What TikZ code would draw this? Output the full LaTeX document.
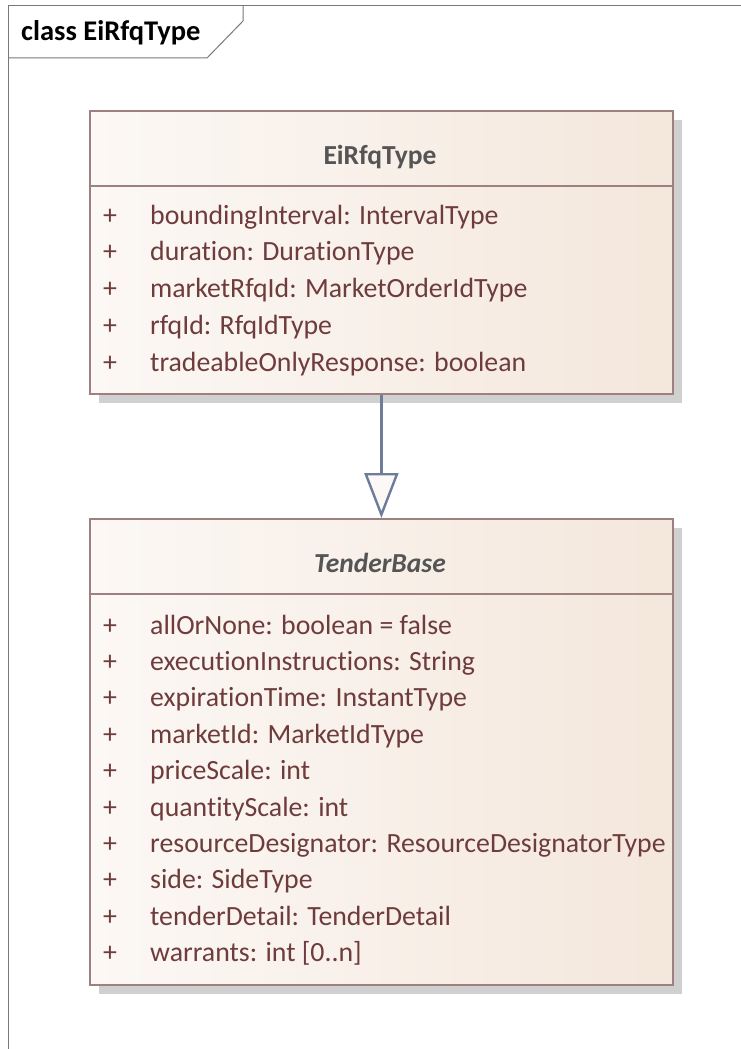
\documentclass[tikz,border=0pt]{standalone}
\usepackage{fontspec}
\setmainfont[Ligatures=NoCommon]{Carlito}
\usetikzlibrary{shadows,arrows.meta}
\definecolor{umlline}{RGB}{158,128,128}
\definecolor{umlleft}{RGB}{252,248,245}
\definecolor{umlright}{RGB}{244,231,220}
\definecolor{umlshadow}{RGB}{208,208,208}
\definecolor{umlattr}{RGB}{110,60,60}
\definecolor{umlhead}{RGB}{85,85,85}
\definecolor{umllink}{RGB}{110,124,155}
\definecolor{umlframe}{RGB}{120,120,120}
\tikzset{
  classbox/.style={draw=umlline,line width=1.8pt,left color=umlleft,right color=umlright,
    minimum width=583pt,anchor=north west,inner sep=0pt,
    drop shadow={shadow xshift=9pt,shadow yshift=-9pt,fill=umlshadow,opacity=1}},
  compline/.style={draw=umlline,line width=1.8pt},
  headtext/.style={anchor=base,text=umlhead,font=\fontsize{27.5}{32}\selectfont\bfseries},
  attrtext/.style={anchor=base west,text=umlattr,inner sep=0pt,font=\fontsize{27.8}{32}\selectfont},
  plustext/.style={anchor=base,text=umlattr,inner sep=0pt,font=\fontsize{27.8}{32}\selectfont},
  generalize/.style={draw=umllink,line width=2.4pt,
    -{Triangle[length=45pt,width=34pt,line width=2.4pt,fill=umlleft]}},
}
\begin{document}
\begin{tikzpicture}[x=1pt,y=-1pt]
\useasboundingbox (0,0) rectangle (741,1049);
\pgfmathsetmacro{\rowa}{36.9}
\pgfmathsetmacro{\rowb}{36.4}
%
\draw[umlframe,line width=1pt](8,1049)--(8,6)--(741,6);
\draw[umlframe,line width=1pt](8,58)--(207,58)--(243,21)--(243,6);
\node[anchor=base west,inner sep=0pt,font=\fontsize{28.5}{32}\selectfont\bfseries](title) at (21,41){class EiRfqType};
%
\node[classbox,minimum height=283pt](rfq) at (89,110){};
\draw[compline](rfq.west|-0,186)--(rfq.east|-0,186);
\node[headtext](rfqname) at (380,164){EiRfqType};
\foreach \attr[count=\i from 0] in {boundingInterval: IntervalType,duration: DurationType,
  marketRfqId: MarketOrderIdType,rfqId: RfqIdType,tradeableOnlyResponse: boolean}{
  \node[plustext](rfqp\i) at (110,224+\rowa*\i){+};
  \node[attrtext](rfqa\i) at (150,224+\rowa*\i){\attr};
}
%
\node[classbox,minimum height=466pt](tender) at (89,518){};
\draw[compline](tender.west|-0,594)--(tender.east|-0,594);
\node[headtext,font=\fontsize{27.5}{32}\selectfont\bfseries\itshape](tendername) at (380,572){TenderBase};
\foreach \attr[count=\i from 0] in {allOrNone: boolean = false,executionInstructions: String,
  expirationTime: InstantType,marketId: MarketIdType,priceScale: int,quantityScale: int,
  resourceDesignator: ResourceDesignatorType,side: SideType,tenderDetail: TenderDetail,
  warrants: int [0..n]}{
  \node[plustext](tenderp\i) at (110,634+\rowb*\i){+};
  \node[attrtext](tendera\i) at (150,634+\rowb*\i){\attr};
}
%
\draw[generalize](rfq.south)--(tender.north);
\end{tikzpicture}
\end{document}
